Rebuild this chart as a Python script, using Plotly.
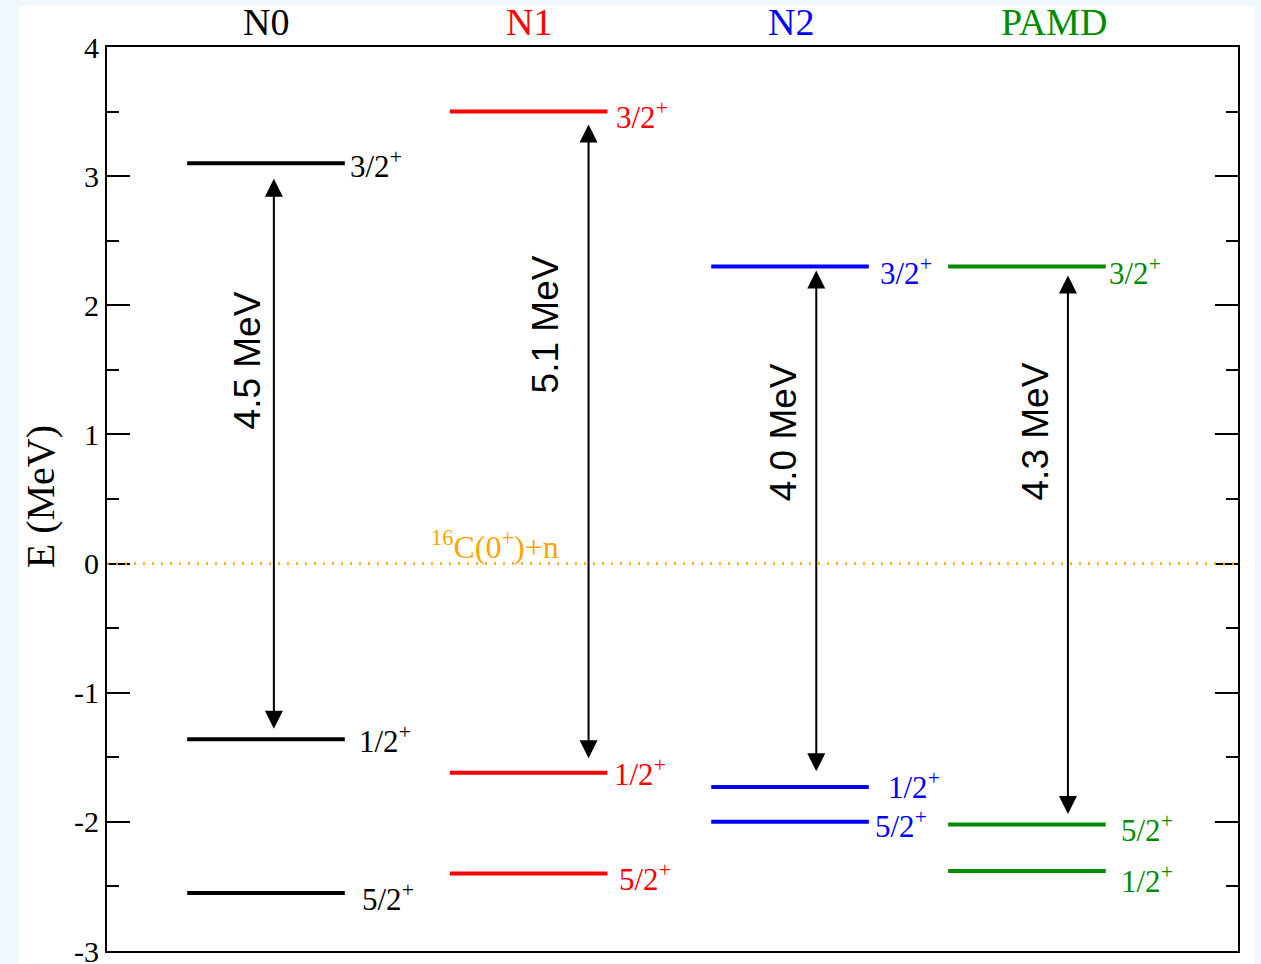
import plotly.graph_objects as go

# ---- data ----
models = ["N0", "N1", "N2", "PAMD"]
model_colors = ["#000000", "#ff0000", "#0000ff", "#008c00"]
title_x = [1, 2, 3, 4.0]
level_x = [1, 2.0, 2.995, 3.897]

level_labels = [
    ["3/2", "1/2", "5/2"],
    ["3/2", "1/2", "5/2"],
    ["3/2", "1/2", "5/2"],
    ["3/2", "5/2", "1/2"],
]
level_energies = [
    [3.10, -1.36, -2.55],
    [3.50, -1.62, -2.40],
    [2.30, -1.73, -2.00],
    [2.30, -2.02, -2.38],
]
# label offsets (pixels) from end of the level line
label_dx = [
    [3, 12, 15],
    [7, 5, 10],
    [9, 17, 4],
    [1, 13, 13],
]
label_dy = [
    [-1, 0, -5],
    [-4, 0, -4],
    [-5, 1, -3],
    [-5, -4, -9],
]

gap_texts = ["4.5 MeV", "5.1 MeV", "4.0 MeV", "4.3 MeV"]
arrow_x = [1.03, 2.228, 3.095, 4.053]
arrow_top = [2.98, 3.40, 2.27, 2.23]
arrow_bottom = [-1.29, -1.52, -1.62, -1.95]
gap_text_x = [0.93, 2.065, 2.97, 3.93]
gap_text_y = [1.57, 1.85, 1.02, 1.02]

threshold_label = "<sup>16</sup>C(0<sup>+</sup>)+n"
threshold_E = 0.0
threshold_label_x = 1.87

y_ticks = [-3, -2, -1, 0, 1, 2, 3, 4]
y_ticktext = ["-3", "-2", "-1", "0", "1", "2", "3", "4"]
y_minor = [-2.5, -1.5, -0.5, 0.5, 1.5, 2.5, 3.5]

half_width = 0.3
x_range = [0.3947, 4.7005]
y_range = [-3, 4]

SERIF = "Liberation Serif, Times New Roman, serif"
SANS = "Liberation Sans, Arial, sans-serif"

fig = go.Figure()

# threshold line
fig.add_trace(go.Scatter(
    x=x_range, y=[threshold_E, threshold_E], mode="lines",
    line=dict(color="#ffa500", width=2.5, dash="2px,7px"), hoverinfo="skip", showlegend=False))

# levels
for i, m in enumerate(models):
    xs, ys = [], []
    for e in level_energies[i]:
        xs += [level_x[i] - half_width, level_x[i] + half_width, None]
        ys += [e, e, None]
    fig.add_trace(go.Scatter(x=xs, y=ys, mode="lines",
                             line=dict(color=model_colors[i], width=4),
                             hoverinfo="skip", showlegend=False))

annotations = []
for i, m in enumerate(models):
    # column title
    annotations.append(dict(x=title_x[i], y=1.0, xref="x", yref="paper", yshift=25,
                            text=m, showarrow=False, yanchor="middle",
                            font=dict(family=SERIF, size=38, color=model_colors[i])))
    # level labels
    for lab, e, dx, dy in zip(level_labels[i], level_energies[i], label_dx[i], label_dy[i]):
        annotations.append(dict(x=level_x[i] + half_width, y=e, xref="x", yref="y",
                                text=lab + "<sup>+</sup>", showarrow=False,
                                xanchor="left", yanchor="middle", xshift=dx, yshift=dy,
                                font=dict(family=SERIF, size=31, color=model_colors[i])))
    # arrows (double headed)
    annotations.append(dict(x=arrow_x[i], y=arrow_top[i], ax=arrow_x[i], ay=arrow_bottom[i],
                            xref="x", yref="y", axref="x", ayref="y", text="",
                            showarrow=True, arrowhead=2, startarrowhead=2, arrowside="end+start",
                            arrowwidth=2, arrowsize=1.8, startarrowsize=1.8, arrowcolor="black"))
    # gap text
    annotations.append(dict(x=gap_text_x[i], y=gap_text_y[i], xref="x", yref="y",
                            text=gap_texts[i], showarrow=False, textangle=-90,
                            font=dict(family=SANS, size=37, color="black")))

annotations.append(dict(x=threshold_label_x, y=threshold_E, xref="x", yref="y",
                        text=threshold_label, showarrow=False, yanchor="bottom", yshift=-3,
                        font=dict(family=SERIF, size=32, color="#ffa500")))

# y-axis title
annotations.append(dict(x=-0.0592, y=0.502, xref="paper", yref="paper", text="E (MeV)",
                        showarrow=False, textangle=-90, xanchor="center", yanchor="middle",
                        font=dict(family=SERIF, size=40, color="black")))

fig.update_layout(
    width=1261, height=964,
    margin=dict(l=107, r=23, t=47, b=13, autoexpand=False),
    paper_bgcolor="#eef8fd",
    plot_bgcolor="white",
    annotations=annotations,
    shapes=[dict(type="rect", xref="paper", yref="paper", x0=-0.0778, x1=1.0141,
                 y0=-0.05, y1=1.0454, fillcolor="white", line=dict(width=0), layer="below")],
    xaxis=dict(range=x_range, showgrid=False, zeroline=False, showticklabels=False,
               ticks="", showline=True, linecolor="black", linewidth=2, mirror=True,
               automargin=False),
    yaxis=dict(range=y_range, showgrid=False, zeroline=False, showline=True,
               linecolor="black", linewidth=2, mirror="ticks", layer="below traces",
               automargin=False,
               ticks="inside", ticklen=23, tickwidth=1.5, tickcolor="black",
               tickvals=y_ticks, ticktext=y_ticktext, ticklabeloverflow="allow",
               minor=dict(tickvals=y_minor, ticks="inside",
                          ticklen=12, tickwidth=1.5, tickcolor="black"),
               tickfont=dict(family=SERIF, size=30, color="black")),
)

fig.write_html("out.html")
